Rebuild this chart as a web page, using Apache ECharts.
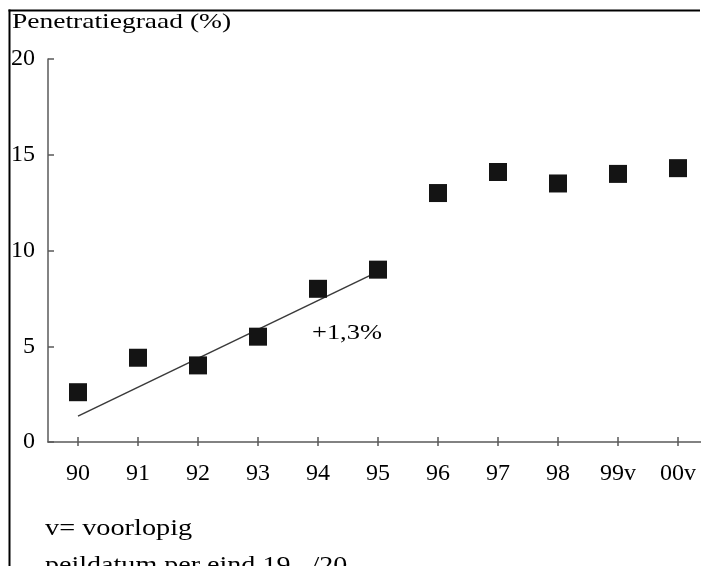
<!DOCTYPE html>
<html>
<head>
<meta charset="utf-8">
<script src="https://cdn.jsdelivr.net/npm/echarts@6/dist/echarts.min.js"></script>
<style>
html,body{margin:0;padding:0;background:#fff;overflow:hidden;width:701px;height:566px;}
#chart{width:701px;height:566px;overflow:hidden;}
</style>
</head>
<body>
<div id="chart"></div>
<script>
// ---- data ----
const categories = ['90', '91', '92', '93', '94', '95', '96', '97', '98', '99v', '00v'];
const penetration = [2.6, 4.4, 4.0, 5.5, 8.0, 9.0, 13.0, 14.1, 13.5, 14.0, 14.3];
const trendLine = [1.35, null, null, null, null, 8.9];
const yTicks = [0, 5, 10, 15, 20];
const titleText = 'Penetratiegraad (%)';
const trendLabel = '+1,3%';
const footnotes = ['v= voorlopig', 'peildatum per eind 19.. /20..'];

const serif = '"Liberation Serif", "Times New Roman", serif';
const chart = echarts.init(document.getElementById('chart'), null, {renderer: 'canvas'});

const axisLineStyle = {color: '#5a5a5a', width: 1.5};

chart.setOption({
  backgroundColor: '#fff',
  animation: false,
  grid: {show: false, left: 48, top: 59, width: 660, height: 383, containLabel: false, outerBoundsMode: 'none'},
  xAxis: [{
    type: 'category',
    data: categories,
    position: 'bottom',
    boundaryGap: true,
    axisLine: {show: true, lineStyle: axisLineStyle},
    axisTick: {show: true, alignWithLabel: true, inside: false, length: 4, lineStyle: axisLineStyle},
    axisLabel: {color: '#000', fontFamily: serif, fontSize: 24, margin: 20, interval: 0},
    splitLine: {show: false}
  }, {
    type: 'category',
    data: categories,
    position: 'bottom',
    offset: 0,
    boundaryGap: true,
    axisLine: {show: false},
    axisTick: {show: true, alignWithLabel: true, inside: true, length: 5, lineStyle: axisLineStyle},
    axisLabel: {show: false},
    splitLine: {show: false}
  }],
  yAxis: {
    type: 'value',
    min: yTicks[0],
    max: yTicks[yTicks.length - 1],
    interval: yTicks[1] - yTicks[0],
    axisLine: {show: true, lineStyle: axisLineStyle},
    axisTick: {show: true, inside: true, length: 6, lineStyle: axisLineStyle},
    axisLabel: {color: '#000', fontFamily: serif, fontSize: 24, margin: 13},
    splitLine: {show: false}
  },
  series: [{
    type: 'line',
    data: trendLine,
    connectNulls: true,
    showSymbol: false,
    symbol: 'none',
    lineStyle: {color: '#3a3a3a', width: 1.5},
    z: 2,
    silent: true
  }, {
    type: 'scatter',
    data: penetration,
    symbol: 'rect',
    symbolSize: 18,
    itemStyle: {color: '#141414', opacity: 1},
    z: 3
  }],
  graphic: [
    {type: 'rect', shape: {x: 8.5, y: 9.5, width: 691.5, height: 2}, style: {fill: '#000'}},
    {type: 'rect', shape: {x: 8.5, y: 9.5, width: 2, height: 557}, style: {fill: '#000'}},
    {type: 'text', x: 12, y: 22, scaleX: 1.25,
      style: {text: titleText, font: '22px ' + serif, fill: '#000', textVerticalAlign: 'middle'}},
    {type: 'text', x: 312, y: 333, scaleX: 1.2,
      style: {text: trendLabel, font: '22px ' + serif, fill: '#000', textVerticalAlign: 'middle'}},
    {type: 'text', x: 45, y: 529, scaleX: 1.23,
      style: {text: footnotes[0], font: '23px ' + serif, fill: '#000', textVerticalAlign: 'middle'}},
    {type: 'text', x: 45, y: 566, scaleX: 1.22,
      style: {text: footnotes[1], font: '23px ' + serif, fill: '#000', textVerticalAlign: 'middle'}}
  ]
});
</script>
</body>
</html>
